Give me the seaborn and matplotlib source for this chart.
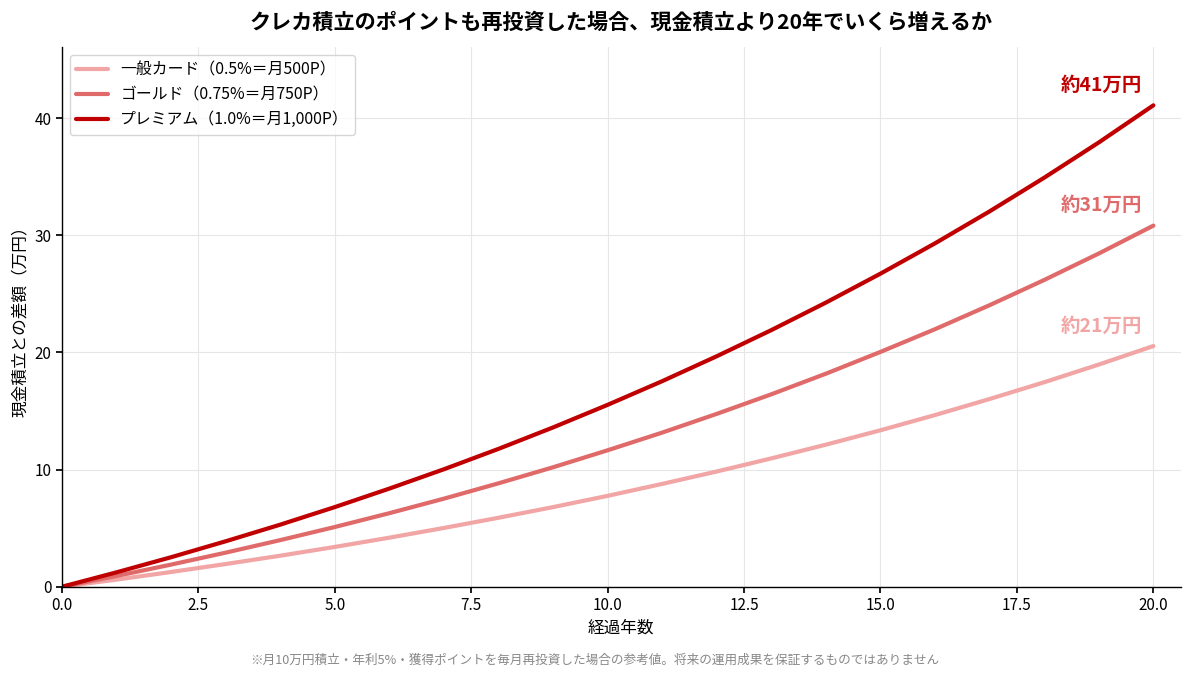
import numpy as np
import pandas as pd
import seaborn as sns
import matplotlib.pyplot as plt

# data (万円, difference vs cash saving at each year)
years = list(range(0, 21))
general = [0.00, 0.61, 1.26, 1.94, 2.65, 3.40, 4.19, 5.02, 5.89, 6.80, 7.76,
           8.78, 9.84, 10.96, 12.13, 13.36, 14.66, 16.03, 17.46, 18.97, 20.55]
gold = [0.00, 0.92, 1.89, 2.91, 3.98, 5.10, 6.28, 7.52, 8.83, 10.20, 11.65,
        13.16, 14.76, 16.43, 18.19, 20.05, 21.99, 24.04, 26.19, 28.45, 30.83]
premium = [0.00, 1.23, 2.52, 3.88, 5.30, 6.80, 8.38, 10.03, 11.77, 13.60, 15.53,
           17.55, 19.68, 21.91, 24.26, 26.73, 29.32, 32.05, 34.92, 37.93, 41.10]
series_names = ["一般カード（0.5%＝月500P）", "ゴールド（0.75%＝月750P）", "プレミアム（1.0%＝月1,000P）"]
end_labels = ["約21万円", "約31万円", "約41万円"]
colors = ["#f2a5a5", "#e06a6a", "#c00000"]

df = pd.DataFrame({"year": years * 3,
                   "value": general + gold + premium,
                   "card": [series_names[0]] * 21 + [series_names[1]] * 21 + [series_names[2]] * 21})

sns.set_theme(style="whitegrid")
plt.rcParams['font.family'] = ['Noto Sans CJK JP', 'DejaVu Sans']
plt.rcParams['text.color'] = 'black'
plt.rcParams['axes.labelcolor'] = 'black'
plt.rcParams['xtick.color'] = 'black'
plt.rcParams['ytick.color'] = 'black'

fig, ax = plt.subplots(figsize=(11.89, 6.76), dpi=100)
sns.lineplot(data=df, x="year", y="value", hue="card", palette=colors, linewidth=3, ax=ax)

# labels at the end of each line
for vals, lab, c in zip([general, gold, premium], end_labels, colors):
    ax.text(19.05, vals[-1] + 1.7, lab, color=c, fontsize=14, fontweight="bold",
            ha="center", va="center")

ax.set_xlim(0, 20.5)
ax.set_ylim(0, 46.05)
ax.set_xticks([0, 2.5, 5, 7.5, 10, 12.5, 15, 17.5, 20])
ax.set_yticks([0, 10, 20, 30, 40])
ax.set_xlabel("経過年数", fontsize=12)
ax.set_ylabel("現金積立との差額（万円）", fontsize=12)
ax.tick_params(axis="both", labelsize=11, length=4, color="black", bottom=True, left=True)
ax.grid(color="#e6e6e6", linewidth=0.8)
for s in ["top", "right"]:
    ax.spines[s].set_visible(False)
for s in ["left", "bottom"]:
    ax.spines[s].set_color("black")
    ax.spines[s].set_linewidth(1)

leg = ax.legend(loc="upper left", fontsize=11.4, frameon=True, title=None)
leg.get_frame().set_edgecolor("#cccccc")

ax.set_title("クレカ積立のポイントも再投資した場合、現金積立より20年でいくら増えるか",
             fontsize=15.2, fontweight="bold", pad=13)
fig.text(0.5, 0.018, "※月10万円積立・年利5%・獲得ポイントを毎月再投資した場合の参考値。将来の運用成果を保証するものではありません",
         ha="center", fontsize=9.1, color="#888888")

plt.subplots_adjust(left=0.052, right=0.993, top=0.93, bottom=0.132)
plt.savefig("out.png", dpi=100)
